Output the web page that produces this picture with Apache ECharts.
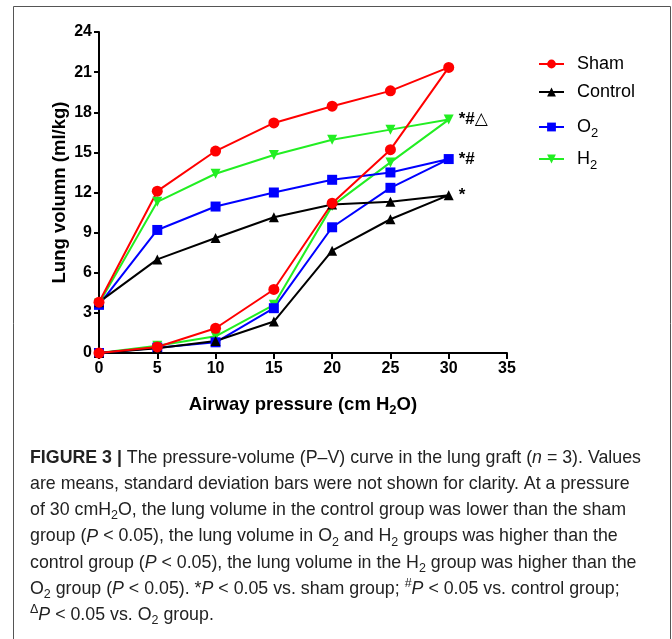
<!DOCTYPE html>
<html>
<head>
<meta charset="utf-8">
<script src="https://cdn.jsdelivr.net/npm/echarts@6/dist/echarts.min.js"></script>
<style>
  html, body { margin: 0; padding: 0; background: #fff; }
  #app { width: 672px; height: 639px; }
</style>
</head>
<body>
<div id="app"></div>
<script>
// 压力点: 充气段 (0 -> 30), 放气段 (25 -> 0)
var xLower = [0, 5, 10, 15, 20, 25, 30]
var xUpper = [25, 20, 15, 10, 5, 0]

var shamLower = [0, 0.45, 1.85, 4.75, 11.2, 15.2, 21.35]
var shamUpper = [19.6, 18.45, 17.2, 15.1, 12.1, 3.8]
var controlLower = [0, 0.35, 0.9, 2.35, 7.65, 10.0, 11.8]
var controlUpper = [11.3, 11.1, 10.15, 8.6, 7.0, 3.8]
var o2Lower = [0, 0.4, 0.8, 3.35, 9.4, 12.35, 14.5]
var o2Upper = [13.5, 12.95, 12.0, 10.95, 9.2, 3.6]
var h2Lower = [0, 0.55, 1.25, 3.6, 11.0, 14.25, 17.45]
var h2Upper = [16.7, 15.95, 14.8, 13.4, 11.3, 3.7]

var seriesNames = ['H2', 'O2', 'Control', 'Sham']
var legendTop = ['Sham', 'Control']
var legendBottom = ['O2', 'H2']
var notes = {Sham: '', Control: '*', O2: '*#', H2: '*#△'}

var xTicks = [0, 5, 10, 15, 20, 25, 30, 35]

var captionLines = [
    '{b|FIGURE 3 |} The pressure-volume (P–V) curve in the lung graft ({i|n} = 3). Values',
    'are means, standard deviation bars were not shown for clarity. At a pressure',
    'of 30 cmH{sub|2}O, the lung volume in the control group was lower than the sham',
    'group ({i|P} < 0.05), the lung volume in O{sub|2} and H{sub|2} groups was higher than the',
    'control group ({i|P} < 0.05), the lung volume in the H{sub|2} group was higher than the',
    'O{sub|2} group ({i|P} < 0.05). *{i|P} < 0.05 vs. sham group; {sup|#}{i|P} < 0.05 vs. control group;',
    '{sup|Δ}{i|P} < 0.05 vs. O{sub|2} group.'
]

var chart = echarts.init(document.getElementById('app'), null, {renderer: 'canvas'})

var styles = {
    Sham: {color: '#ff0000', symbol: 'circle', size: 11, rotate: 0},
    Control: {color: '#000000', symbol: 'triangle', size: 10, rotate: 0},
    O2: {color: '#0000ff', symbol: 'rect', size: 10, rotate: 0},
    H2: {color: '#22ee22', symbol: 'triangle', size: 10, rotate: 180}
}

var loops = {
    Sham: [shamLower, shamUpper],
    Control: [controlLower, controlUpper],
    O2: [o2Lower, o2Upper],
    H2: [h2Lower, h2Upper]
}

//构建每条曲线的数据
var buildData = (name) => {
    var lower = loops[name][0], upper = loops[name][1]
    var data = []
    for (var i = 0; i < xLower.length; i++) {
        if (xLower[i] === 30 && notes[name]) {
            data.push({
                value: [xLower[i], lower[i]],
                label: {show: true, formatter: notes[name]}
            })
        } else {
            data.push([xLower[i], lower[i]])
        }
    }
    for (var j = 0; j < xUpper.length; j++) {
        data.push([xUpper[j], upper[j]])
    }
    return data
}

var series = seriesNames.map((name) => {
    var s = styles[name]
    return {
        name: name,
        type: 'line',
        data: buildData(name),
        symbol: s.symbol,
        symbolSize: s.size,
        symbolRotate: s.rotate,
        showAllSymbol: true,
        color: s.color,
        lineStyle: {width: 2, color: s.color},
        itemStyle: {color: s.color},
        label: {
            show: false,
            position: 'right',
            distance: 5,
            color: '#000',
            fontSize: 17,
            fontWeight: 'bold',
            fontFamily: 'Liberation Sans, DejaVu Sans'
        },
        emphasis: {disabled: true}
    }
})

var legendRich = {
    n: {fontSize: 18, fontFamily: 'Liberation Sans', color: '#000'},
    s: {fontSize: 13, fontFamily: 'Liberation Sans', color: '#000', verticalAlign: 'bottom', lineHeight: 12, padding: [0, 0, -4, 0]}
}

var legendFmt = (name) => {
    if (name === 'O2') return '{n|O}{s|2}'
    if (name === 'H2') return '{n|H}{s|2}'
    return '{n|' + name + '}'
}

var legendBase = {
    orient: 'vertical',
    left: 533,
    itemWidth: 25,
    itemHeight: 11,
    itemGap: 10,
    selectedMode: false,
    formatter: legendFmt,
    textStyle: {rich: legendRich, padding: [0, 0, 0, 8]}
}

var graphics = [{
    type: 'rect',
    shape: {x: 13.5, y: 6.5, width: 657, height: 660},
    style: {fill: 'none', stroke: '#555', lineWidth: 1},
    silent: true
}]

captionLines.forEach((line, i) => {
    graphics.push({
        type: 'text',
        x: 30,
        y: 458 + i * 26.2,
        silent: true,
        style: {
            text: line,
            fill: '#222',
            font: '17.8px "Liberation Sans"',
            verticalAlign: 'middle',
            rich: {
                b: {fontWeight: 'bold', fontSize: 17.8, fill: '#222'},
                i: {fontStyle: 'italic', fontSize: 17.8, fill: '#222'},
                sub: {fontSize: 12.5, fill: '#222', verticalAlign: 'bottom', lineHeight: 12, padding: [0, 0, -3, 0]},
                sup: {fontSize: 12.5, fill: '#222', verticalAlign: 'top', lineHeight: 12, padding: [-3, 0, 0, 0]}
            }
        }
    })
})

chart.setOption({
    animation: false,
    backgroundColor: '#fff',
    grid: {
        left: 99,
        top: 32,
        width: 408,
        height: 321,
        containLabel: false,
        outerBoundsMode: 'none'
    },
    legend: [
        Object.assign({}, legendBase, {top: 50, data: legendTop}),
        Object.assign({}, legendBase, {top: 113, itemGap: 10, data: legendBottom})
    ],
    xAxis: {
        type: 'value',
        min: 0,
        max: 35,
        interval: 5,
        name: 'Airway pressure (cm H{s|2}O)',
        nameLocation: 'middle',
        nameGap: 42,
        nameTextStyle: {
            rich: {
                s: {fontSize: 13, fontWeight: 'bold', fontFamily: 'Liberation Sans', color: '#000', verticalAlign: 'bottom', lineHeight: 12, padding: [0, 0, -3, 0]}
            },
            fontSize: 18.5,
            fontWeight: 'bold',
            fontFamily: 'Liberation Sans',
            color: '#000'
        },
        splitLine: {show: false},
        axisLine: {lineStyle: {color: '#000', width: 2}},
        axisTick: {length: 6, lineStyle: {color: '#000', width: 2}},
        axisLabel: {
            margin: 8,
            fontSize: 16,
            fontWeight: 'bold',
            fontFamily: 'Liberation Sans',
            color: '#000',
            customValues: xTicks
        }
    },
    yAxis: {
        type: 'value',
        min: 0,
        max: 24,
        interval: 3,
        name: 'Lung volumn (ml/kg)',
        nameLocation: 'middle',
        nameGap: 30,
        nameMoveOverlap: false,
        nameTextStyle: {
            fontSize: 18.5,
            fontWeight: 'bold',
            fontFamily: 'Liberation Sans',
            color: '#000'
        },
        splitLine: {show: false},
        axisLine: {show: true, lineStyle: {color: '#000', width: 2}},
        axisTick: {show: true, length: 5, lineStyle: {color: '#000', width: 2}},
        axisLabel: {
            margin: 7,
            fontSize: 16,
            fontWeight: 'bold',
            fontFamily: 'Liberation Sans',
            color: '#000'
        }
    },
    graphic: graphics,
    series: series
})
</script>
</body>
</html>
